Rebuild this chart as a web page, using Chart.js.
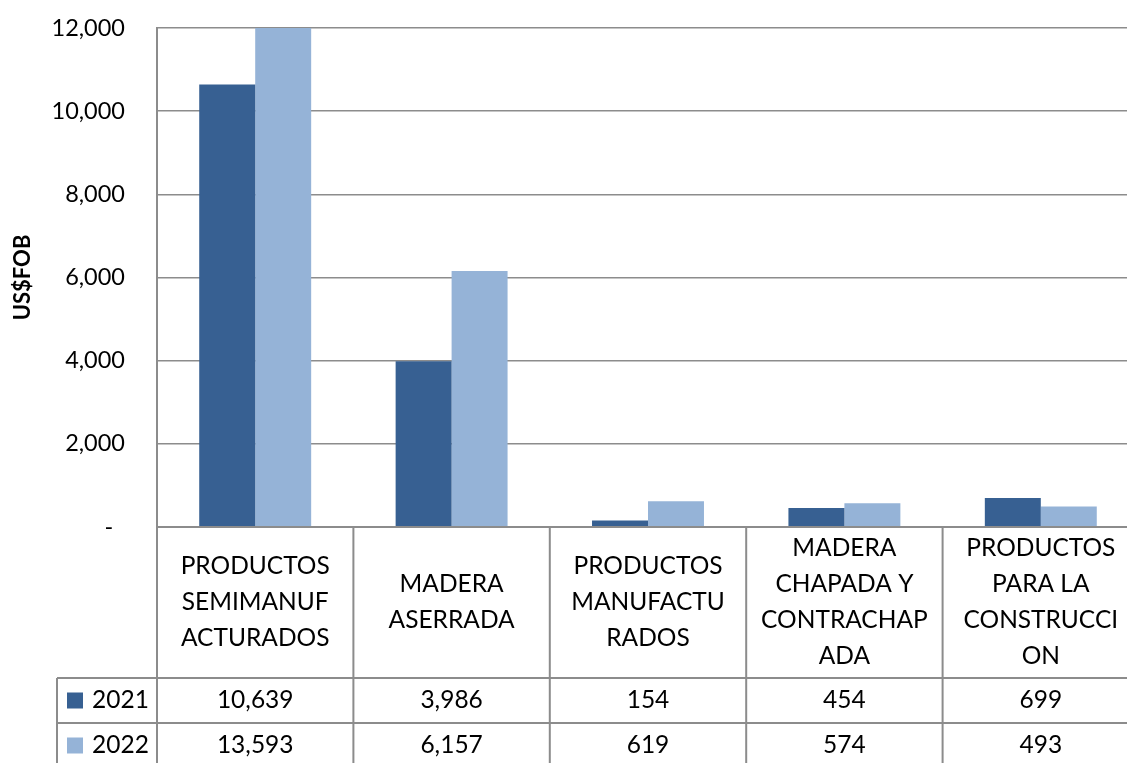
<!DOCTYPE html>
<html><head><meta charset="utf-8">
<script src="https://cdn.jsdelivr.net/npm/chart.js@4/dist/chart.umd.min.js"></script>
<style>
html,body{margin:0;padding:0;overflow:hidden;background:#fff;width:1127px;height:763px}
#wrap{position:absolute;left:0;top:0;width:1145px;height:763px}
</style>
</head><body><div id="wrap"><canvas id="c" width="1145" height="763"></canvas></div>
<script>
// ---- data ----
const categories = [
  ['PRODUCTOS','SEMIMANUF','ACTURADOS'],
  ['MADERA','ASERRADA'],
  ['PRODUCTOS','MANUFACTU','RADOS'],
  ['MADERA','CHAPADA Y','CONTRACHAP','ADA'],
  ['PRODUCTOS','PARA LA','CONSTRUCCI','ON']
];
const seriesNames = ['2021', '2022'];
const values2021 = [10639, 3986, 154, 454, 699];
const values2022 = [13593, 6157, 619, 574, 493];
const yMin = 0, yMax = 12000, yStep = 2000;
const yTitle = 'US$FOB';

// ---- styles ----
const FONT = 'Lato, "Open Sans", sans-serif';
const GRID = '#8c8c8c';
const COLORS = ['#376092', '#95b3d7'];
const seriesValues = [values2021, values2022];

const tablePlugin = {
  id: 'dataTable',
  afterDraw(chart) {
    const {ctx, chartArea: a, scales: {x}} = chart;
    const n = categories.length;
    const w = x.getPixelForValue(1) - x.getPixelForValue(0);
    const top = a.bottom, catH = 151, rowH = 45;
    const r1 = top + catH, r2 = r1 + rowH, r3 = r2 + rowH;
    const legendLeft = 57;
    ctx.save();
    ctx.strokeStyle = GRID; ctx.lineWidth = 2;
    ctx.beginPath();
    ctx.moveTo(a.left, top); ctx.lineTo(a.right, top);
    ctx.moveTo(legendLeft, r1); ctx.lineTo(a.right, r1);
    ctx.moveTo(legendLeft, r2); ctx.lineTo(a.right, r2);
    ctx.moveTo(legendLeft, r3); ctx.lineTo(a.right, r3);
    for (let i = 0; i <= n; i++) {
      const xx = x.getPixelForValue(0) - w / 2 + i * w;
      ctx.moveTo(xx, top); ctx.lineTo(xx, r3);
    }
    ctx.moveTo(legendLeft, r1); ctx.lineTo(legendLeft, r3);
    ctx.stroke();

    ctx.fillStyle = '#000';
    ctx.font = '24.5px ' + FONT;
    ctx.textAlign = 'center'; ctx.textBaseline = 'middle';
    const lh = 36;
    categories.forEach((lines, i) => {
      const cx = x.getPixelForValue(i);
      const cy = top + catH / 2;
      lines.forEach((t, j) => {
        ctx.fillText(t, cx, cy + (j - (lines.length - 1) / 2) * lh);
      });
    });
    seriesValues.forEach((vals, s) => {
      const cy = r1 + rowH * s + rowH / 2;
      vals.forEach((v, i) => {
        ctx.fillText(v.toLocaleString('en-US'), x.getPixelForValue(i), cy);
      });
      ctx.fillStyle = COLORS[s];
      ctx.fillRect(67, cy - 8, 16, 16);
      ctx.fillStyle = '#000';
      ctx.textAlign = 'left';
      ctx.fillText(seriesNames[s], 92, cy);
      ctx.textAlign = 'center';
    });
    ctx.restore();
  }
};

new Chart(document.getElementById('c'), {
  type: 'bar',
  data: {
    labels: categories,
    datasets: seriesNames.map((name, s) => ({
      label: name, data: seriesValues[s], backgroundColor: COLORS[s], borderWidth: 0
    }))
  },
  options: {
    responsive: false, animation: false, devicePixelRatio: 1,
    layout: {padding: {top: 28, left: 10, right: 6, bottom: 236}},
    plugins: {legend: {display: false}, tooltip: {enabled: false}},
    datasets: {bar: {categoryPercentage: 0.57, barPercentage: 1}},
    scales: {
      x: {display: false, offset: true},
      y: {
        min: yMin, max: yMax,
        ticks: {
          stepSize: yStep, padding: 32, color: '#000',
          font: {family: FONT, size: 23.5},
          callback: v => v === 0 ? '-\u2002' : v.toLocaleString('en-US')
        },
        grid: {color: GRID, lineWidth: 1.5, drawTicks: false},
        border: {display: true, color: GRID, width: 2},
        title: {display: true, text: yTitle, color: '#000', padding: 0,
          font: {family: FONT, size: 22, weight: 'bold'}},
        afterFit(s) { s.width = 147; s.paddingTop = 0; s.paddingBottom = 0; }
      }
    }
  },
  plugins: [tablePlugin]
});
</script>
</body></html>
